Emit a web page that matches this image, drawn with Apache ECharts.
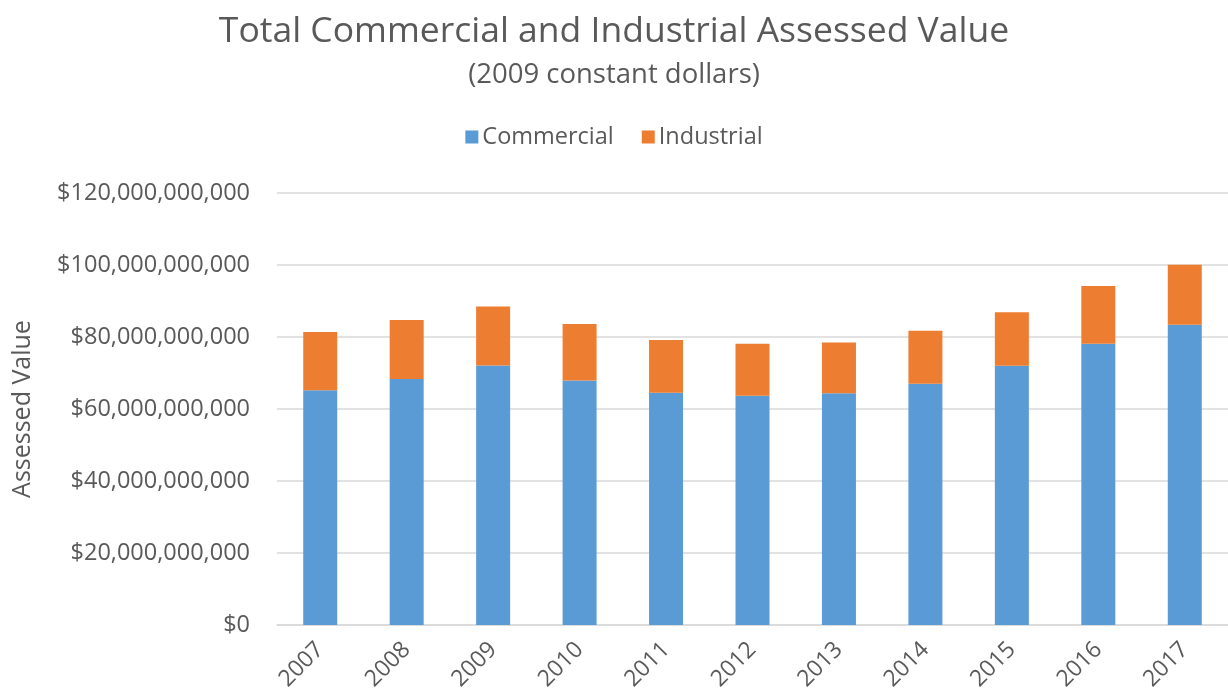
<!DOCTYPE html>
<html>
<head>
<meta charset="utf-8">
<title>Total Commercial and Industrial Assessed Value</title>
<script src="https://cdn.jsdelivr.net/npm/echarts@6/dist/echarts.min.js"></script>
<style>
  html, body { margin: 0; padding: 0; background: #fff; }
  #chart { width: 1228px; height: 695px; }
</style>
</head>
<body>
<div id="chart"></div>
<script>
// Fiscal years shown on the category axis
const years = ['2007', '2008', '2009', '2010', '2011', '2012', '2013', '2014', '2015', '2016', '2017'];

// Assessed value in billions of 2009 dollars
const commercial = [65.2, 68.3, 72.1, 67.9, 64.5, 63.7, 64.4, 67.0, 72.0, 78.1, 83.4];
const industrial = [16.2, 16.4, 16.4, 15.7, 14.7, 14.4, 14.1, 14.75, 14.9, 16.1, 16.7];

// Value axis range and tick step, in billions
const yMax = 120;
const yStep = 20;

const BILLION = 1e9;
const font = '"Open Sans", "Noto Sans", sans-serif';
const textColor = '#595959';

function money(v) {
  return '$' + Math.round(v).toLocaleString('en-US');
}

const chart = echarts.init(document.getElementById('chart'), null, { renderer: 'canvas' });

chart.setOption({
  backgroundColor: '#ffffff',
  animation: false,
  textStyle: { fontFamily: font, color: textColor },
  title: [
    {
      text: 'Total Commercial and Industrial Assessed Value',
      left: 'center',
      top: 9,
      textStyle: { fontFamily: font, fontSize: 35.5, fontWeight: 'normal', color: textColor }
    },
    {
      text: '(2009 constant dollars)',
      left: 'center',
      top: 56,
      textStyle: { fontFamily: font, fontSize: 27.5, fontWeight: 'normal', color: textColor }
    }
  ],
  legend: {
    top: 120,
    left: 'center',
    itemWidth: 13,
    itemHeight: 13,
    itemGap: 28,
    icon: 'rect',
    textStyle: { fontFamily: font, fontSize: 23.5, color: textColor, padding: [0, 0, 0, -1] },
    data: ['Commercial', 'Industrial']
  },
  grid: {
    left: 277,
    top: 193,
    width: 954,
    height: 432,
    containLabel: false
  },
  xAxis: {
    type: 'category',
    data: years,
    axisLine: { show: true, lineStyle: { color: '#D9D9D9', width: 1.5 } },
    axisTick: { show: false },
    axisLabel: {
      rotate: 45,
      margin: 21,
      fontFamily: font,
      fontSize: 23,
      color: textColor
    }
  },
  yAxis: {
    type: 'value',
    min: 0,
    max: yMax * BILLION,
    interval: yStep * BILLION,
    name: 'Assessed Value',
    nameLocation: 'middle',
    nameGap: 242,
    nameRotate: 90,
    nameTextStyle: { fontFamily: font, fontSize: 25, color: textColor },
    axisLine: { show: false },
    axisTick: { show: false },
    axisLabel: {
      margin: 27,
      fontFamily: font,
      fontSize: 23.5,
      color: textColor,
      formatter: money
    },
    splitLine: { lineStyle: { color: '#D9D9D9', width: 1.5 } }
  },
  series: [
    {
      name: 'Commercial',
      type: 'bar',
      stack: 'total',
      barWidth: 34,
      itemStyle: { color: '#5B9BD5' },
      data: commercial.map(v => v * BILLION)
    },
    {
      name: 'Industrial',
      type: 'bar',
      stack: 'total',
      barWidth: 34,
      itemStyle: { color: '#ED7D31' },
      data: industrial.map(v => v * BILLION)
    }
  ]
});
</script>
</body>
</html>
